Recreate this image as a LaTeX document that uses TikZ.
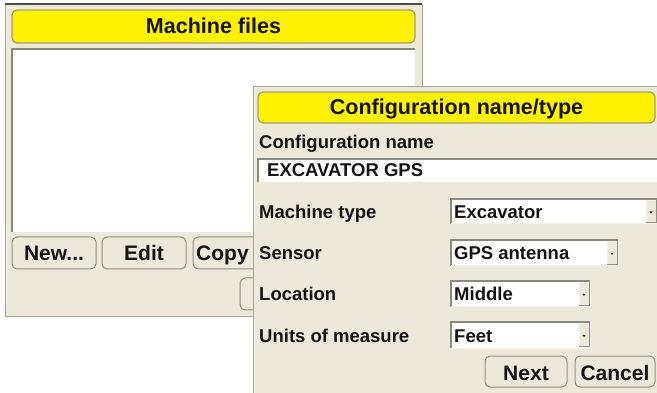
\documentclass[tikz,border=0pt]{standalone}
\usepackage{fontspec}
\setmainfont{Liberation Sans}
\definecolor{panel}{HTML}{ECE9D8}
\definecolor{frameedge}{HTML}{A7A69A}
\definecolor{topedge}{HTML}{4A4A46}
\definecolor{titleedge}{HTML}{A3A070}
\definecolor{btnedge}{HTML}{8F8E82}
\definecolor{sunkdark}{HTML}{8A897F}
\definecolor{sunklight}{HTML}{F4F2E8}
\definecolor{ink}{HTML}{141414}
\newcommand\ttlfont{\fontsize{21.5}{24}\selectfont\bfseries}
\newcommand\lblfont{\fontsize{18.5}{21}\selectfont\bfseries}
\newcommand\btnfont{\fontsize{21}{24}\selectfont\bfseries}
\tikzset{
  titlebar/.style={draw=titleedge, fill=yellow, rounded corners=5pt, line width=1.2pt},
  btnbox/.style={draw=btnedge, fill=panel, rounded corners=5pt, line width=1pt},
  btntext/.style={anchor=base, font=\btnfont, text=ink, inner sep=0pt},
  ttltext/.style={anchor=base, font=\ttlfont, text=ink, inner sep=0pt},
  lbl/.style={anchor=base west, font=\lblfont, text=ink, inner sep=0pt},
  field/.style={fill=white},
  sunk/.style={draw=sunkdark, line width=1.5pt},
  arrowbox/.style={fill=panel, draw=sunklight, line width=0.6pt},
}
% a drop-down list: #1 left, #2 top, #3 right, #4 bottom
\newcommand\dropbox[4]{%
  \fill[field] (#1,#2) rectangle (#3,#4);
  \draw[sunk] (#1,#4) -- (#1,#2) -- (#3,#2);
  \draw[sunklight, line width=1pt] (#3,#2) -- (#3,#4) -- (#1,#4);
  \filldraw[arrowbox] ({#3-11},{#2+1.5}) rectangle ({#3-1},{#4-1.5});
  \draw[btnedge, line width=0.8pt] ({#3-11},{#4-1.5}) -- ({#3-1},{#4-1.5}) -- ({#3-1},{#2+1.5});
  \fill[ink] ({#3-7.5},{(#2+#4)/2}) -- ({#3-4.5},{(#2+#4)/2}) -- ({#3-6},{(#2+#4)/2+2}) -- cycle;
}
\begin{document}
\begin{tikzpicture}[x=1pt,y=-1pt]
\useasboundingbox (0,0) rectangle (657,393);
\fill[white] (0,0) rectangle (657,393);

% ---------- Machine files window ----------
\fill[panel] (5,4) rectangle (422,317);
\draw[frameedge, line width=1pt] (5,4) -- (5,317) -- (422,317) -- (422,4);
\draw[topedge, line width=1.3pt] (5,4) -- (422,4);
\filldraw[titlebar] (12,10) rectangle (415,43);
\node[ttltext] (mftitle) at (213.5,33.5) {Machine files};
\fill[field] (12,49) rectangle (415,232);
\draw[sunk] (12,232) -- (12,49) -- (415,49);
\filldraw[btnbox] (12,237) rectangle (96,269);
\node[btntext] (new) at (54,261) {New...};
\filldraw[btnbox] (102,237) rectangle (186,269);
\node[btntext] (edit) at (144,261) {Edit};
\filldraw[btnbox] (193,237) rectangle (290,269);
\node[btntext, anchor=base west] (copy) at (196,261) {Copy};
\filldraw[btnbox] (240,278) rectangle (320,310);

% ---------- Configuration name/type window ----------
\fill[panel] (253,87) rectangle (657,393);
\draw[frameedge, line width=1pt] (253,393) -- (253,87) -- (657,87);
\filldraw[titlebar] (258,92) rectangle (655,123);
\node[ttltext] (cftitle) at (456.5,115) {Configuration name/type};

\node[lbl] (cfname) at (259,149) {Configuration name};
\fill[field] (258,159) rectangle (657,182);
\draw[sunk] (258,182) -- (258,159) -- (657,159);
\node[lbl] (cfvalue) at (267,177) {EXCAVATOR GPS};

\node[lbl] (mtype) at (259,219) {Machine type};
\dropbox{451}{199}{657}{224}
\node[lbl] (mtypev) at (454,219) {Excavator};

\node[lbl] (sensor) at (259,260) {Sensor};
\dropbox{451}{240}{618}{266}
\node[lbl] (sensorv) at (454,260) {GPS antenna};

\node[lbl] (loc) at (259,301) {Location};
\dropbox{451}{281}{590}{307}
\node[lbl] (locv) at (454,301) {Middle};

\node[lbl] (units) at (259,342) {Units of measure};
\dropbox{451}{322}{590}{348}
\node[lbl] (unitsv) at (454,342) {Feet};

\filldraw[btnbox] (485,356) rectangle (567,387);
\node[btntext] (next) at (526,380) {Next};
\filldraw[btnbox] (575,356) rectangle (655,387);
\node[btntext] (cancel) at (615,380) {Cancel};
\end{tikzpicture}
\end{document}
